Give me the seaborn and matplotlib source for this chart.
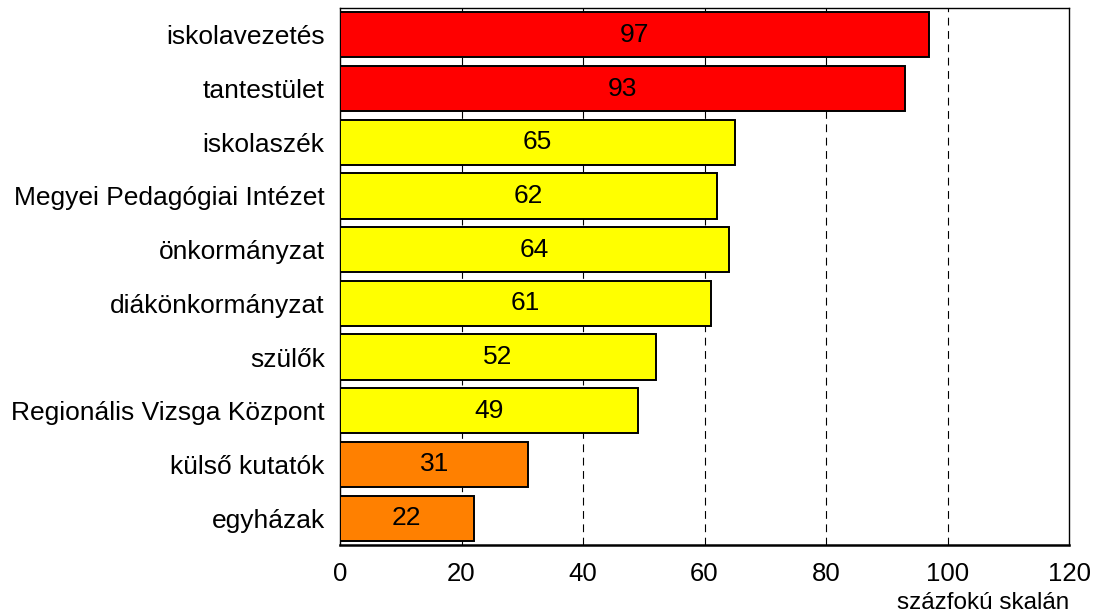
import matplotlib
matplotlib.use("Agg")
import matplotlib.pyplot as plt
import seaborn as sns
import pandas as pd

# kategóriák és értékek
categories = ["iskolavezetés", "tantestület", "iskolaszék", "Megyei Pedagógiai Intézet",
              "önkormányzat", "diákönkormányzat", "szülők", "Regionális Vizsga Központ",
              "külső kutatók", "egyházak"]
values = [97, 93, 65, 62, 64, 61, 52, 49, 31, 22]
colors = ["#ff0000", "#ff0000", "#ffff00", "#ffff00", "#ffff00", "#ffff00",
          "#ffff00", "#ffff00", "#ff8000", "#ff8000"]
xticks = [0, 20, 40, 60, 80, 100, 120]
xlabel = "százfokú skalán"

df = pd.DataFrame({"kat": categories, "ertek": values})

sns.set_style("white")
plt.rcParams["font.family"] = ["Liberation Sans", "DejaVu Sans"]
plt.rcParams["text.color"] = "black"
plt.rcParams["xtick.color"] = "black"
plt.rcParams["ytick.color"] = "black"

fig = plt.figure(figsize=(10.95, 6.13), dpi=100)
ax = fig.add_axes([340 / 1095, 1 - 545 / 613, 729 / 1095, 537 / 613])

sns.barplot(data=df, x="ertek", y="kat", hue="kat", palette=colors, legend=False,
            saturation=1, orient="h", width=0.84, edgecolor="black", linewidth=1.4,
            ax=ax, zorder=3)

# szaggatott rácsvonalak
for xv in xticks[1:-1]:
    ax.axvline(xv, color="black", linestyle=(0, (7, 5)), linewidth=0.8, zorder=1)

for i, v in enumerate(values):
    ax.text(v / 2, i, str(v), ha="center", va="center", fontsize=19, zorder=4)

ax.set_xlim(0, 120)
ax.set_ylim(len(categories) - 0.5, -0.5)
ax.set_xticks(xticks)
ax.set_xticklabels([str(t) for t in xticks], fontsize=18.5)
ax.tick_params(axis="x", length=0, pad=12)
ax.tick_params(axis="y", length=0, pad=11, labelsize=19)
ax.set_xlabel("")
ax.set_ylabel("")
for s in ax.spines.values():
    s.set_color("black")
    s.set_linewidth(1.0)
ax.spines["bottom"].set_linewidth(1.8)

fig.text(1069 / 1095, 1 - 609 / 613, xlabel, ha="right", va="baseline", fontsize=17.5)

fig.savefig("out.png", dpi=100)
